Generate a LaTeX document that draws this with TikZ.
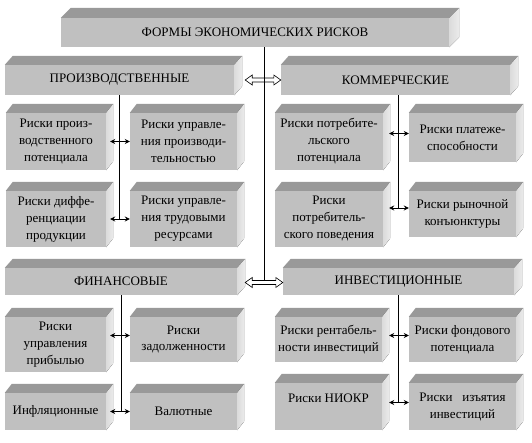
\documentclass[tikz,border=0pt]{standalone}
\usepackage{fontspec}
\setmainfont{Liberation Serif}
\usetikzlibrary{arrows.meta,calc}
\definecolor{frontc}{HTML}{C0C0C0}
\definecolor{topc}{HTML}{999999}
\definecolor{sidec}{HTML}{DEDEDE}
\tikzset{
  cube/.style={fill=frontc, inner sep=1pt, align=center, anchor=center,
    font=\fontsize{13}{17}\selectfont},
  topface/.style={fill=topc},
  sideface/.style={left color=sidec!90!frontc, right color=sidec!60!white},
  link/.style={black, line width=0.9pt},
  smallarrow/.style={black, line width=0.9pt, {Stealth[length=5pt,width=5pt]}-{Stealth[length=5pt,width=5pt]}},
  hollow/.style={draw=black, fill=white, line width=0.6pt, line join=miter}
}
% box: name, x1, y1, x2, y2, dx, dy, text
\newcommand\cubebox[8]{%
  \node[cube, minimum width={#4-#2}, minimum height={#5-#3}] (#1) at ({(#2+#4)/2},{(#3+#5)/2}) {#8};
  \fill[topface] (#1.north west) -- ([shift={(#6,-#7)}]#1.north west) -- ([shift={(#6,-#7)}]#1.north east) -- (#1.north east) -- cycle;
  \fill[sideface] (#1.north east) -- ([shift={(#6,-#7)}]#1.north east) -- ([shift={(#6,-#7)}]#1.south east) -- (#1.south east) -- cycle;
}
% hollow double arrow between two points (horizontal)
\newcommand\hollowarrow[2]{%
  \draw[hollow] (#1) -- ($(#1)+(7,-5)$) -- ($(#1)+(7,-2)$) -- ($(#2)+(-7,-2)$) -- ($(#2)+(-7,-5)$) -- (#2)
    -- ($(#2)+(-7,5)$) -- ($(#2)+(-7,2)$) -- ($(#1)+(7,2)$) -- ($(#1)+(7,5)$) -- cycle;
}
\begin{document}
\begin{tikzpicture}[x=1pt,y=-1pt]
\useasboundingbox[fill=white] (0,0) rectangle (532,443);
% top
\cubebox{top}{61}{18}{449}{47}{10}{10}{ФОРМЫ ЭКОНОМИЧЕСКИХ РИСКОВ}
% groups
\cubebox{prod}{5}{65}{234}{95}{8}{9}{ПРОИЗВОДСТВЕННЫЕ}
\cubebox{comm}{281}{65}{510}{95}{8}{9}{КОММЕРЧЕСКИЕ}
\cubebox{fin}{5}{268}{237}{295}{8}{9}{ФИНАНСОВЫЕ}
\cubebox{inv}{283}{268}{514}{295}{8}{9}{ИНВЕСТИЦИОННЫЕ}
% production
\cubebox{p1}{6}{113}{106}{170}{7}{9}{Риски произ-\\водственного\\потенциала}
\cubebox{p2}{130}{113}{237}{170}{7}{9}{Риски управле-\\ния производи-\\тельностью}
\cubebox{p3}{6}{191}{106}{247}{7}{9}{Риски диффе-\\ренциации\\продукции}
\cubebox{p4}{130}{191}{237}{247}{7}{9}{Риски управле-\\ния трудовыми\\ресурсами}
% commercial
\cubebox{c1}{275}{113}{383}{170}{7}{9}{Риски потребите-\\льского\\потенциала}
\cubebox{c2}{409}{113}{516}{162}{7}{9}{Риски платеже-\\способности}
\cubebox{c3}{275}{191}{383}{247}{7}{9}{Риски\\потребитель-\\ского поведения}
\cubebox{c4}{409}{191}{516}{237}{7}{9}{Риски рыночной\\конъюнктуры}
% financial
\cubebox{f1}{5}{317}{106}{372}{7}{9}{Риски\\управления\\прибылью}
\cubebox{f2}{130}{317}{237}{362}{7}{9}{Риски\\задолженности}
\cubebox{f3}{5}{393}{106}{430}{7}{9}{Инфляционные}
\cubebox{f4}{130}{393}{237}{430}{7}{9}{Валютные}
% investment
\cubebox{i1}{275}{317}{382}{362}{7}{9}{Риски рентабель-\\ности инвестиций}
\cubebox{i2}{409}{317}{516}{362}{7}{9}{Риски фондового\\потенциала}
\cubebox{i3}{275}{383}{382}{430}{7}{9}{Риски НИОКР\\\phantom{Риски}}
\cubebox{i4}{409}{383}{516}{430}{7}{9}{Риски\ \ \ изъятия\\инвестиций}

% main vertical line
\coordinate (mx) at (264,0);
\coordinate (mbot) at (264,282);
\draw[link] (top.south -| mx) -- (mbot);
% top hollow arrow (line over it)
\coordinate (ha1) at ([xshift=11pt]prod.east);
\coordinate (ha2) at (comm.west);
\hollowarrow{ha1}{ha2}
\coordinate (hamid) at (ha1 -| mx);
\draw[link] ([yshift=8pt]hamid) -- ([yshift=-8pt]hamid);
% bottom hollow arrow
\coordinate (hb1) at ([xshift=8pt,yshift=-1pt]fin.east);
\coordinate (hb2) at ([yshift=-1pt]inv.west);
\hollowarrow{hb1}{hb2}

% production group
\coordinate (p1e) at ([xshift=4pt]p1.east);
\coordinate (p3e) at ([xshift=4pt]p3.east);
\draw[link] (prod.south) -- (prod.south |- p3.east);
\draw[smallarrow] (p1e) -- (p1e -| p2.west);
\draw[smallarrow] (p3e) -- (p3e -| p4.west);
% commercial group
\coordinate (cx) at ([xshift=3pt]comm.south);
\coordinate (c2w) at ([yshift=4pt]c2.west);
\coordinate (c4w) at ([yshift=6pt]c4.west);
\coordinate (c1e) at ([xshift=6pt]c1.east);
\draw[link] (cx) -- (cx |- c4w);
\draw[smallarrow] (c2w -| c1e) -- (c2w);
\draw[smallarrow] (c4w -| c1e) -- (c4w);
% financial group
\coordinate (f2w) at ([yshift=4pt]f2.west);
\coordinate (f1e) at ([xshift=4pt]f1.east);
\draw[link] (fin.south) -- (fin.south |- f4.west);
\draw[smallarrow] (f2w -| f1e) -- (f2w);
\draw[smallarrow] (f4.west -| f1e) -- (f4.west);
% investment group
\coordinate (i2w) at ([yshift=4pt]i2.west);
\coordinate (i4w) at ([yshift=4pt]i4.west);
\coordinate (i1e) at ([xshift=7pt]i1.east);
\draw[link] (inv.south) -- (inv.south |- i4w);
\draw[smallarrow] (i2w -| i1e) -- (i2w);
\draw[smallarrow] (i4w -| i1e) -- (i4w);
\end{tikzpicture}
\end{document}
